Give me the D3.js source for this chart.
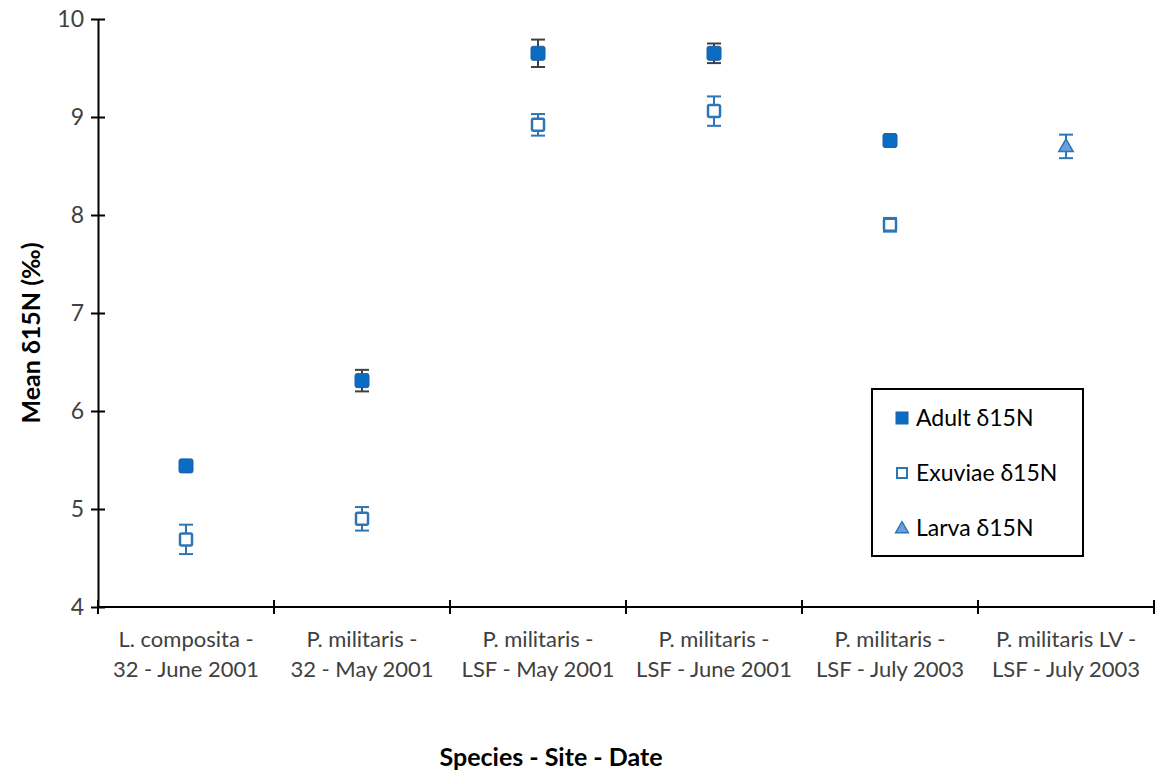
<!DOCTYPE html>
<html>
<head>
<meta charset="utf-8">
<script src="https://cdn.jsdelivr.net/npm/d3@7"></script>
<style>
  body { margin: 0; background: #fff; }
  text { font-family: Lato, "Open Sans", sans-serif; }
</style>
</head>
<body>
<div id="chart"></div>
<script>
// categories (two lines each)
var categories = [
  ["L. composita -", "32 - June 2001"],
  ["P. militaris -", "32 - May 2001"],
  ["P. militaris -", "LSF - May 2001"],
  ["P. militaris -", "LSF - June 2001"],
  ["P. militaris -", "LSF - July 2003"],
  ["P. militaris LV -", "LSF - July 2003"]
];
var yTicks = [4, 5, 6, 7, 8, 9, 10];

// series: index into categories, mean, error
var adult = [
  { c: 0, v: 5.44, e: 0.04 },
  { c: 1, v: 6.31, e: 0.11 },
  { c: 2, v: 9.65, e: 0.14 },
  { c: 3, v: 9.65, e: 0.10 },
  { c: 4, v: 8.76, e: 0.05 }
];
var exuviae = [
  { c: 0, v: 4.69, e: 0.15 },
  { c: 1, v: 4.90, e: 0.12 },
  { c: 2, v: 8.92, e: 0.11 },
  { c: 3, v: 9.06, e: 0.15 },
  { c: 4, v: 7.90, e: 0.07 }
];
var larva = [
  { c: 5, v: 8.70, e: 0.12 }
];

var svgWidth = 1158;
var svgHeight = 774;
var margin = { top: 19, right: 4, bottom: 167, left: 98 };
var width = svgWidth - margin.left - margin.right;
var height = svgHeight - margin.top - margin.bottom;

var svg = d3.select("#chart").append("svg")
  .attr("width", svgWidth)
  .attr("height", svgHeight);

var chartGroup = svg.append("g")
  .attr("transform", `translate(${margin.left}, ${margin.top})`);

var xScale = d3.scaleBand()
  .domain(d3.range(categories.length))
  .range([0, width]);

var yScale = d3.scaleLinear()
  .domain([4, 10])
  .range([height, 0]);

// y axis
var yAxis = chartGroup.append("g")
  .call(d3.axisLeft(yScale).tickValues(yTicks).tickFormat(d3.format("d")).tickSize(0).tickPadding(14));
yAxis.select(".domain").attr("stroke", "#000").attr("stroke-width", 2);
yAxis.selectAll(".tick text")
  .attr("font-size", 23).attr("fill", "#404040");
yAxis.selectAll(".tick").append("line")
  .attr("x1", -7).attr("x2", 7)
  .attr("stroke", "#000").attr("stroke-width", 2);

// x axis
var xAxis = chartGroup.append("g")
  .attr("transform", `translate(0, ${height})`);
xAxis.append("line")
  .attr("x1", 0).attr("x2", width)
  .attr("stroke", "#000").attr("stroke-width", 2);
xAxis.selectAll(".xtick")
  .data(d3.range(categories.length + 1))
  .enter().append("line")
  .attr("x1", d => d * xScale.bandwidth())
  .attr("x2", d => d * xScale.bandwidth())
  .attr("y1", -7).attr("y2", 7)
  .attr("stroke", "#000").attr("stroke-width", 2);

var xLabels = xAxis.selectAll(".xlabel")
  .data(categories)
  .enter().append("text")
  .attr("text-anchor", "middle")
  .attr("font-size", 22)
  .attr("fill", "#404040")
  .attr("transform", (d, i) => `translate(${xScale(i) + xScale.bandwidth() / 2}, 0)`);
xLabels.append("tspan").attr("x", 0).attr("y", 40).text(d => d[0]);
xLabels.append("tspan").attr("x", 0).attr("y", 70).text(d => d[1]);

// axis titles
svg.append("text")
  .attr("transform", `translate(40, ${margin.top + height / 2 + 20}) rotate(-90)`)
  .attr("text-anchor", "middle")
  .attr("font-size", 25)
  .attr("font-weight", "bold")
  .text("Mean δ15N (‰)");

svg.append("text")
  .attr("x", 551)
  .attr("y", 766)
  .attr("text-anchor", "middle")
  .attr("font-size", 25)
  .attr("font-weight", "bold")
  .text("Species - Site - Date");

var cx = d => xScale(d.c) + xScale.bandwidth() / 2;

function errorBars(data, color) {
  var g = chartGroup.append("g");
  var eb = g.selectAll("g").data(data).enter().append("g")
    .attr("stroke", color).attr("stroke-width", 2);
  eb.append("line")
    .attr("x1", cx).attr("x2", cx)
    .attr("y1", d => yScale(d.v - d.e)).attr("y2", d => yScale(d.v + d.e));
  eb.append("line")
    .attr("x1", d => cx(d) - 7).attr("x2", d => cx(d) + 7)
    .attr("y1", d => yScale(d.v - d.e)).attr("y2", d => yScale(d.v - d.e));
  eb.append("line")
    .attr("x1", d => cx(d) - 7).attr("x2", d => cx(d) + 7)
    .attr("y1", d => yScale(d.v + d.e)).attr("y2", d => yScale(d.v + d.e));
}

errorBars(adult, "#404040");
errorBars(exuviae, "#2E75B6");
errorBars(larva, "#2E75B6");

// adult markers
chartGroup.selectAll(".adult")
  .data(adult).enter().append("rect")
  .attr("x", d => cx(d) - 7).attr("y", d => yScale(d.v) - 7)
  .attr("width", 14).attr("height", 14).attr("rx", 2)
  .attr("fill", "#0B6CC4").attr("stroke", "#1F5FA8").attr("stroke-width", 1);

// exuviae markers
chartGroup.selectAll(".exuviae")
  .data(exuviae).enter().append("rect")
  .attr("x", d => cx(d) - 6).attr("y", d => yScale(d.v) - 6)
  .attr("width", 12).attr("height", 12).attr("rx", 1.5)
  .attr("fill", "#fff").attr("stroke", "#2E75B6").attr("stroke-width", 2.5);

// larva markers
var tri = d3.symbol().type(d3.symbolTriangle).size(90);
chartGroup.selectAll(".larva")
  .data(larva).enter().append("path")
  .attr("d", tri)
  .attr("transform", d => `translate(${cx(d)}, ${yScale(d.v) + 1})`)
  .attr("fill", "#6E9FDC").attr("stroke", "#2E75B6").attr("stroke-width", 1.5);

// legend
var legend = svg.append("g").attr("transform", "translate(872, 389)");
legend.append("rect")
  .attr("width", 211).attr("height", 167)
  .attr("fill", "#fff").attr("stroke", "#000").attr("stroke-width", 2);

var legendItems = ["Adult δ15N", "Exuviae δ15N", "Larva δ15N"];
legendItems.forEach(function(label, i) {
  var ly = 29 + i * 55;
  if (i === 0) {
    legend.append("rect").attr("x", 24).attr("y", ly - 6)
      .attr("width", 12).attr("height", 12)
      .attr("fill", "#0B6CC4").attr("stroke", "#1F5FA8");
  } else if (i === 1) {
    legend.append("rect").attr("x", 25).attr("y", ly - 5)
      .attr("width", 10).attr("height", 10)
      .attr("fill", "#fff").attr("stroke", "#2E75B6").attr("stroke-width", 2);
  } else {
    legend.append("path").attr("d", d3.symbol().type(d3.symbolTriangle).size(70))
      .attr("transform", `translate(30, ${ly + 1})`)
      .attr("fill", "#6E9FDC").attr("stroke", "#2E75B6").attr("stroke-width", 1.5);
  }
  legend.append("text")
    .attr("x", 44).attr("y", ly + 8)
    .attr("font-size", 23).attr("fill", "#000")
    .text(label);
});
</script>
</body>
</html>
